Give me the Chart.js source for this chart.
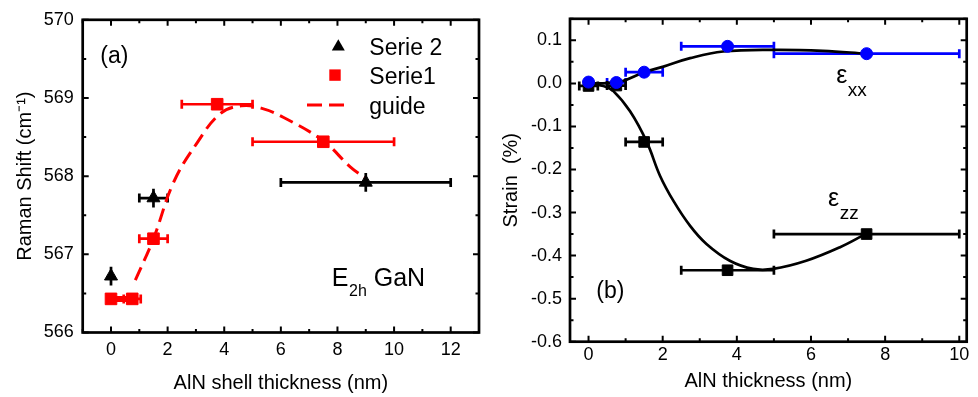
<!DOCTYPE html>
<html><head><meta charset="utf-8">
<script src="https://cdn.jsdelivr.net/npm/chart.js@4.4.1/dist/chart.umd.min.js"></script>
<style>
html,body{margin:0;padding:0;background:#fff;}
#wrap{position:relative;width:978px;height:397px;overflow:hidden;background:#fff;}
canvas{position:absolute;top:0;}
</style></head>
<body><div id="wrap">
<canvas id="c1" width="489" height="397" style="left:0;width:489px;height:397px"></canvas>
<canvas id="c2" width="489" height="397" style="left:489px;width:489px;height:397px"></canvas>
</div>
<script>
const FONT = "'Liberation Sans', Arial, Helvetica, sans-serif";

// ---------- Panel (a): Raman shift ----------
const serie2Thickness = [0, 1.5, 9];
const serie2Shift     = [566.72, 567.72, 567.92];
const serie2XErr      = [0, 0.5, 3];
const serie2YErr      = [0.12, 0.12, 0.12];

const serie1Thickness = [0, 0.75, 1.5, 3.75, 7.5];
const serie1Shift     = [566.43, 566.43, 567.2, 568.92, 568.44];
const serie1XErr      = [0, 0.3, 0.5, 1.25, 2.5];

const guideThickness = [0.86, 1.5, 2.21, 3.03, 3.86, 4.6, 5.3, 6.1, 7.5, 8.45, 9.0];
const guideShift     = [566.67, 567.2, 567.92, 568.42, 568.8, 568.9, 568.87, 568.75, 568.45, 568.12, 567.97];

const aXTicks = [0, 2, 4, 6, 8, 10, 12];
const aYTicks = [566, 567, 568, 569, 570];

// ---------- Panel (b): Strain ----------
const alnThickness = [0, 0.75, 1.5, 3.75, 7.5];
const strainXX     = [0.003, 0.002, 0.026, 0.086, 0.069];
const strainXXErr  = [0, 0.25, 0.5, 1.25, 2.5];
const strainZZ     = [-0.006, -0.005, -0.136, -0.434, -0.35];
const strainZZErr  = [0.25, 0.25, 0.5, 1.25, 2.5];

const fitXXThickness = [0, 0.5, 0.9, 1.5, 2.02, 2.74, 3.63, 4.98, 6.32, 7.49];
const fitXXStrain    = [0, 0.0005, 0.005, 0.026, 0.039, 0.0586, 0.074, 0.078, 0.0757, 0.069];
const fitZZThickness = [0, 0.4, 0.67, 1.12, 1.57, 1.93, 2.29, 2.74, 3.18, 3.81, 4.44, 4.98, 5.87, 6.77, 7.49];
const fitZZStrain    = [-0.003, -0.006, -0.018, -0.065, -0.136, -0.215, -0.273, -0.331, -0.373, -0.412, -0.431, -0.431, -0.412, -0.381, -0.349];

const bXTicks = [0, 2, 4, 6, 8, 10];
const bYTicks = [-0.6, -0.5, -0.4, -0.3, -0.2, -0.1, 0.0, 0.1];

const pts = (xs, ys) => xs.map((v, i) => ({x: v, y: ys[i]}));

// ---------- plugins ----------
const errorBars = {
  id: 'errorBars',
  beforeDatasetsDraw(chart) {
    const {ctx, chartArea: a, scales: {x, y}} = chart;
    ctx.save();
    ctx.beginPath(); ctx.rect(a.left - 1, a.top - 1, a.right - a.left + 2, a.bottom - a.top + 2); ctx.clip();
    chart.data.datasets.forEach((ds) => {
      if (!ds.errX && !ds.errY) return;
      ctx.strokeStyle = ds.errColor || '#000';
      ctx.lineWidth = 2.7;
      const cap = 4.5;
      ds.data.forEach((p, j) => {
        const px = x.getPixelForValue(p.x), py = y.getPixelForValue(p.y);
        const ex = ds.errX ? ds.errX[j] : 0;
        if (ex) {
          const x1 = x.getPixelForValue(p.x - ex), x2 = x.getPixelForValue(p.x + ex);
          ctx.beginPath();
          ctx.moveTo(x1, py); ctx.lineTo(x2, py);
          ctx.moveTo(x1, py - cap); ctx.lineTo(x1, py + cap);
          ctx.moveTo(x2, py - cap); ctx.lineTo(x2, py + cap);
          ctx.stroke();
        }
        const ey = ds.errY ? ds.errY[j] : 0;
        if (ey) {
          const y1 = y.getPixelForValue(p.y - ey), y2 = y.getPixelForValue(p.y + ey);
          ctx.beginPath();
          ctx.moveTo(px, y1); ctx.lineTo(px, y2);
          ctx.stroke();
        }
      });
    });
    ctx.restore();
  }
};

function minorValues(min, max, step, majors) {
  const out = [];
  const start = Math.ceil(min / step - 1e-9);
  for (let k = start; k * step <= max + 1e-9; k++) {
    const v = Math.round(k * step * 1e6) / 1e6;
    if (!majors.some(m => Math.abs(m - v) < 1e-6)) out.push(v);
  }
  return out;
}

const frameTicks = {
  id: 'frameTicks',
  afterDatasetsDraw(chart, args, opts) {
    const {ctx, chartArea: a, scales: {x, y}} = chart;
    ctx.save();
    ctx.strokeStyle = '#000';
    ctx.lineWidth = 2;
    const MAJ = 6, MIN = 3.5;
    const xMaj = x.ticks.map(t => t.value), yMaj = y.ticks.map(t => t.value);
    const xMin = minorValues(x.min, x.max, opts.xMinor, xMaj);
    const yMin = minorValues(y.min, y.max, opts.yMinor, yMaj);
    ctx.beginPath();
    const vx = (v, len) => { const p = x.getPixelForValue(v);
      ctx.moveTo(p, a.bottom); ctx.lineTo(p, a.bottom - len);
      ctx.moveTo(p, a.top); ctx.lineTo(p, a.top + len); };
    const vy = (v, len) => { const p = y.getPixelForValue(v);
      ctx.moveTo(a.left, p); ctx.lineTo(a.left + len, p);
      ctx.moveTo(a.right, p); ctx.lineTo(a.right - len, p); };
    xMaj.forEach(v => vx(v, MAJ)); xMin.forEach(v => vx(v, MIN));
    yMaj.forEach(v => vy(v, MAJ)); yMin.forEach(v => vy(v, MIN));
    ctx.stroke();
    ctx.lineWidth = 2.7;
    ctx.strokeRect(a.left, a.top, a.right - a.left, a.bottom - a.top);
    ctx.restore();
  }
};

const annotations = {
  id: 'annotations',
  afterDraw(chart, args, opts) {
    const {ctx, scales: {x, y}} = chart;
    ctx.save();
    ctx.fillStyle = '#000';
    ctx.textBaseline = 'alphabetic';
    ctx.textAlign = 'left';
    (opts.items || []).forEach(it => {
      let px = x.getPixelForValue(it.x), py = y.getPixelForValue(it.y);
      ctx.font = it.size + 'px ' + FONT;
      ctx.fillText(it.text, px, py);
      px += ctx.measureText(it.text).width;
      if (it.sub) {
        ctx.font = it.subSize + 'px ' + FONT;
        ctx.fillText(it.sub, px + (it.subDx || 0), py + it.subDy);
        px += ctx.measureText(it.sub).width + (it.subDx || 0);
      }
      if (it.after) {
        ctx.font = it.size + 'px ' + FONT;
        ctx.fillText(it.after, px, py);
      }
    });
    ctx.restore();
  }
};

const legendA = {
  id: 'legendA',
  afterDraw(chart) {
    const {ctx, chartArea: a} = chart;
    const R = a.right, T = a.top;
    ctx.save();
    ctx.fillStyle = '#000';
    ctx.beginPath();
    ctx.moveTo(R - 140.7, T + 27 - 7.5);
    ctx.lineTo(R - 140.7 + 6.5, T + 27 + 3.75);
    ctx.lineTo(R - 140.7 - 6.5, T + 27 + 3.75);
    ctx.closePath(); ctx.fill();
    ctx.fillStyle = '#ff0000';
    ctx.fillRect(R - 144 - 5.7, T + 55.3 - 5.7, 11.4, 11.4);
    ctx.strokeStyle = '#ff0000'; ctx.lineWidth = 3;
    ctx.setLineDash([15, 7]);
    ctx.beginPath(); ctx.moveTo(R - 172, T + 85.3); ctx.lineTo(R - 129, T + 85.3); ctx.stroke();
    ctx.setLineDash([]);
    ctx.fillStyle = '#000';
    ctx.font = '23px ' + FONT;
    ctx.textBaseline = 'alphabetic';
    ctx.fillText('Serie 2', R - 109.7, T + 34.7);
    ctx.fillText('Serie1', R - 109.7, T + 64.3);
    ctx.fillText('guide', R - 109.7, T + 93.7);
    ctx.restore();
  }
};

function axisCommon(title, ticksArr, fmt, padTitle, padTicks, size, isX) {
  return {
    type: 'linear',
    grid: {display: false, drawTicks: false},
    border: {display: false},
    afterBuildTicks: s => { s.ticks = ticksArr.map(v => ({value: v})); },
    afterFit: s => { if (isX) s.height = size; else s.width = size; },
    ticks: {
      color: '#000', padding: padTicks, font: {family: FONT, size: 18},
      callback: fmt, maxRotation: 0, autoSkip: false
    },
    title: {display: true, text: title, color: '#000', font: {family: FONT, size: 20}, padding: padTitle}
  };
}

Chart.defaults.animation = false;

// ---------- Chart (a) ----------
new Chart(document.getElementById('c1'), {
  type: 'scatter',
  data: {
    datasets: [
      {label: 'Serie 2', data: pts(serie2Thickness, serie2Shift), errX: serie2XErr, errY: serie2YErr, errColor: '#000',
       pointStyle: 'triangle', pointRadius: 7.5, backgroundColor: '#000', borderColor: '#000', borderWidth: 1, order: 0},
      {label: 'Serie1', data: pts(serie1Thickness, serie1Shift), errX: serie1XErr, errColor: '#ff0000',
       pointStyle: 'rect', pointRadius: 8.2, backgroundColor: '#ff0000', borderColor: '#ff0000', borderWidth: 1, order: 1},
      {label: 'Serie1 link', data: pts(serie1Thickness.slice(0, 2), serie1Shift.slice(0, 2)), showLine: true,
       pointRadius: 0, borderColor: '#ff0000', borderWidth: 6, order: 2},
      {label: 'guide', data: pts(guideThickness, guideShift), showLine: true, pointRadius: 0,
       borderColor: '#ff0000', borderWidth: 3, borderDash: [14, 7], tension: 0.4, order: 3}
    ]
  },
  options: {
    responsive: false, animation: false,
    layout: {padding: {left: 0, top: 13, right: 10, bottom: 0}},
    plugins: {
      legend: {display: false}, tooltip: {enabled: false},
      frameTicks: {xMinor: 1, yMinor: 0.5},
      annotations: {items: [
        {text: '(a)', size: 23, x: -0.38, y: 569.45},
        {text: 'E', size: 25, x: 7.8, y: 566.59, sub: '2h', subSize: 16, subDy: 10, subDx: 0.5, after: ' GaN'}
      ]}
    },
    scales: {
      x: Object.assign(axisCommon('AlN shell thickness (nm)', aXTicks, v => String(v), {top: 0, bottom: 2}, 7, 64.5, true),
        {min: -1, max: 13, position: 'bottom'}),
      y: Object.assign(axisCommon('Raman Shift (cm\u207B\u00B9)', aYTicks, v => String(v), {top: 13, bottom: 0}, 9, 82.7, false),
        {min: 566, max: 570, position: 'left'})
    }
  },
  plugins: [errorBars, frameTicks, annotations, legendA]
});

// ---------- Chart (b) ----------
new Chart(document.getElementById('c2'), {
  type: 'scatter',
  data: {
    datasets: [
      {label: 'εxx', data: pts(alnThickness, strainXX), errX: strainXXErr, errColor: '#0000ff',
       pointStyle: 'circle', pointRadius: 6, backgroundColor: '#0000ff', borderColor: '#0000ff', borderWidth: 1, order: 0},
      {label: 'εzz', data: pts(alnThickness, strainZZ), errX: strainZZErr, errColor: '#000',
       pointStyle: 'rect', pointRadius: 7.5, backgroundColor: '#000', borderColor: '#000', borderWidth: 1, order: 1},
      {label: 'εxx fit', data: pts(fitXXThickness, fitXXStrain), showLine: true, pointRadius: 0,
       borderColor: '#000', borderWidth: 2.7, tension: 0.4, order: 2},
      {label: 'εzz fit', data: pts(fitZZThickness, fitZZStrain), showLine: true, pointRadius: 0,
       borderColor: '#000', borderWidth: 2.7, tension: 0.4, order: 3}
    ]
  },
  options: {
    responsive: false, animation: false,
    layout: {padding: {left: 0, top: 17, right: 11.3, bottom: 0}},
    plugins: {
      legend: {display: false}, tooltip: {enabled: false},
      frameTicks: {xMinor: 1, yMinor: 0.05},
      annotations: {items: [
        {text: '(b)', size: 23, x: 0.21, y: -0.498},
        {text: '\u03B5', size: 25, x: 6.68, y: 0.0, sub: 'xx', subSize: 19, subDy: 13, subDx: 0.5},
        {text: '\u03B5', size: 25, x: 6.46, y: -0.285, sub: 'zz', subSize: 19, subDy: 13, subDx: 0.5}
      ]}
    },
    scales: {
      x: Object.assign(axisCommon('AlN thickness (nm)', bXTicks, v => String(v), {top: 0, bottom: 4}, 3, 55.3, true),
        {min: -0.5, max: 10.2, position: 'bottom'}),
      y: Object.assign(axisCommon('Strain  (%)', bYTicks, v => Number(v).toFixed(1), {top: 10, bottom: 0}, 8, 81, false),
        {min: -0.6, max: 0.15, position: 'left'})
    }
  },
  plugins: [errorBars, frameTicks, annotations]
});
</script>
</body></html>
